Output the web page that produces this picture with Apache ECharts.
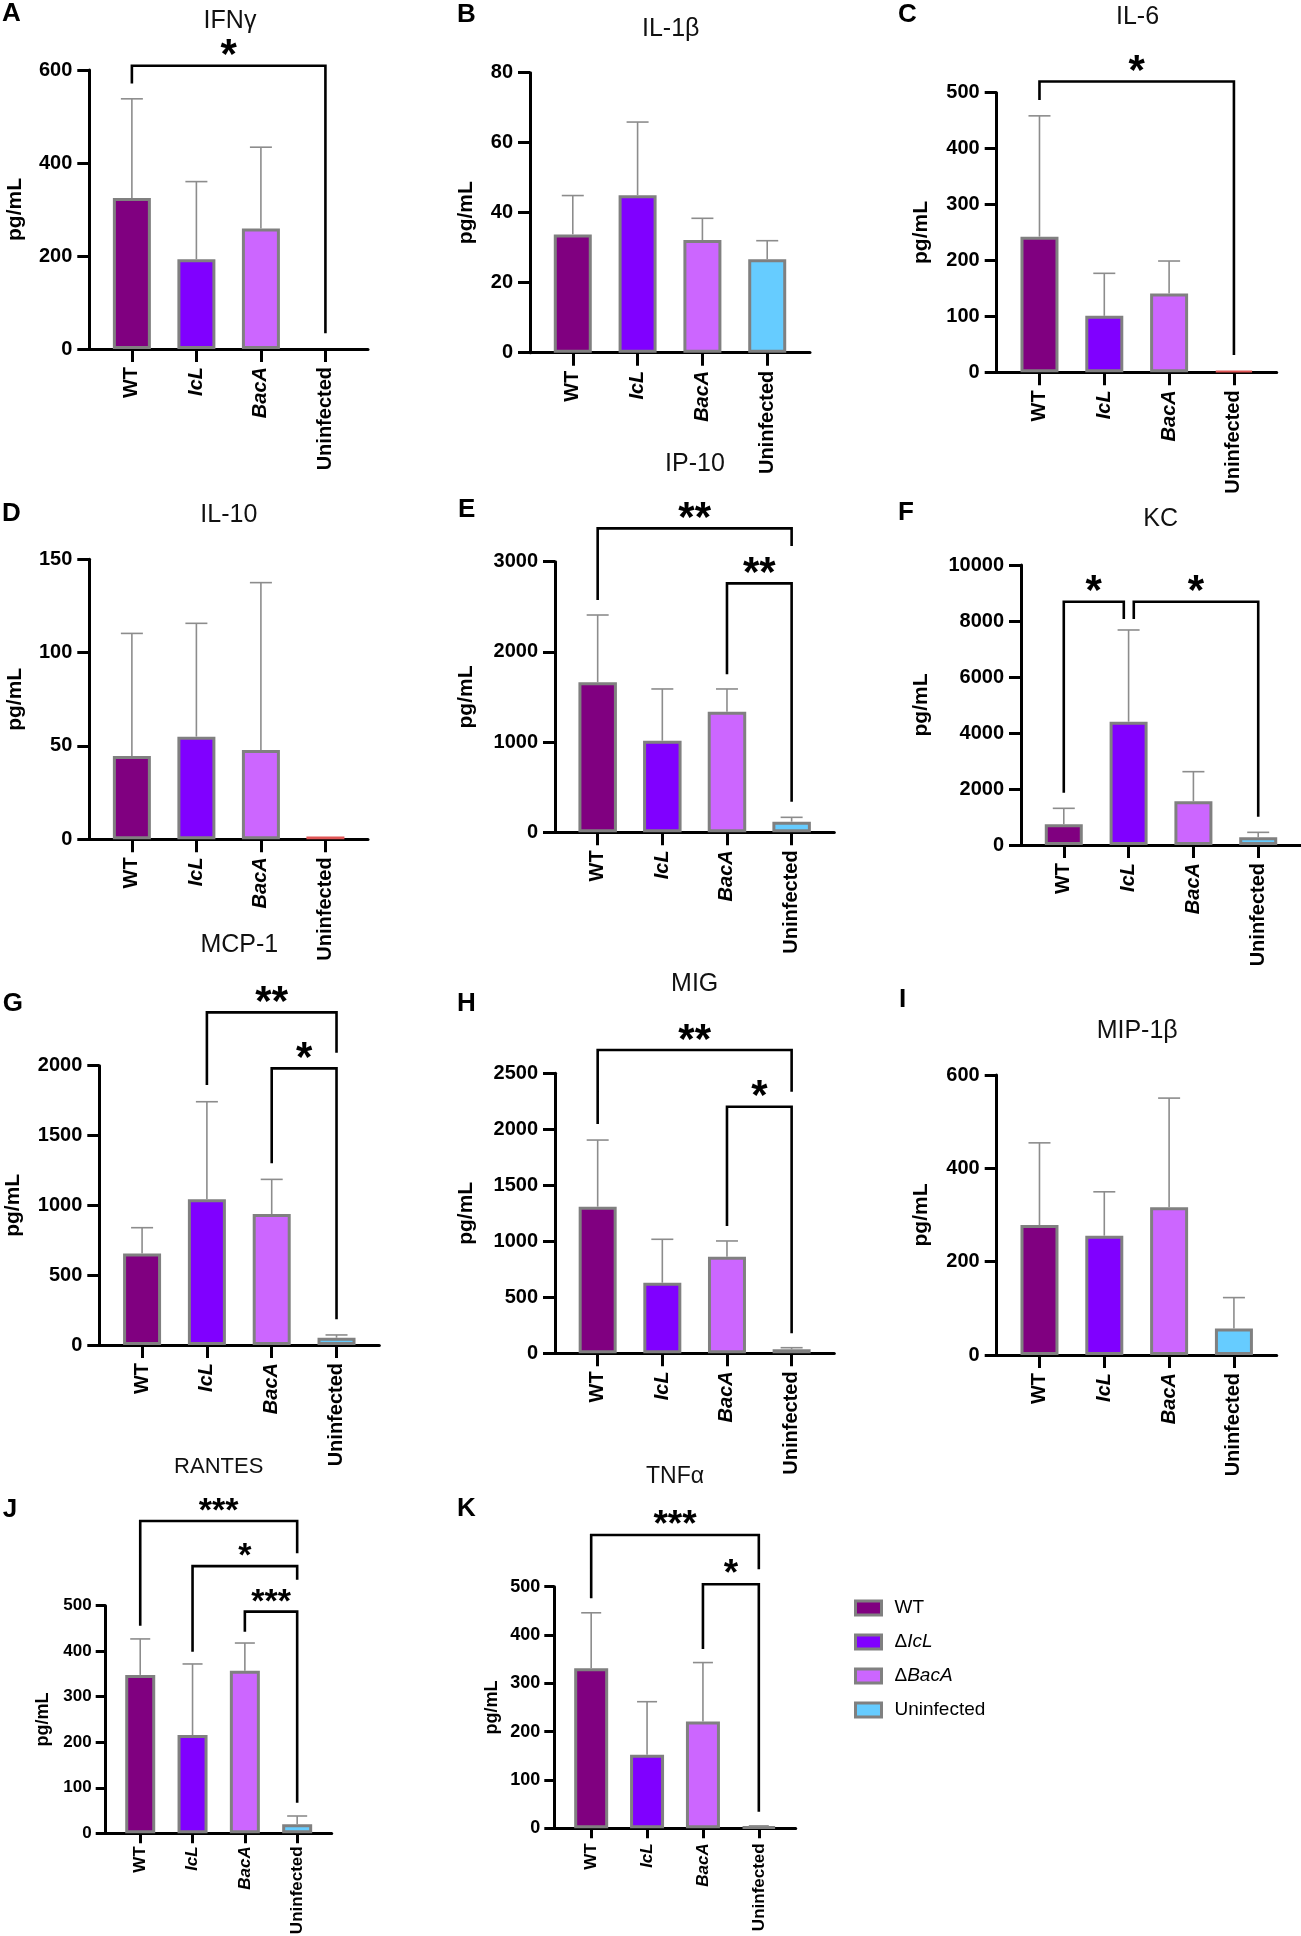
<!DOCTYPE html>
<html><head><meta charset="utf-8">
<script src="https://cdn.jsdelivr.net/npm/echarts@6/dist/echarts.min.js"></script>
<style>html,body{margin:0;padding:0;background:#fff}#c{width:1301px;height:1936px}</style>
</head><body><div id="c"></div>
<script>
// ---------- DATA ----------
const categories = ['WT', 'IcL', 'BacA', 'Uninfected'];
const italicCategories = ['IcL', 'BacA'];
const legendNames = ['WT', 'ΔIcL', 'ΔBacA', 'Uninfected'];
const panelLetters = ['A','B','C','D','E','F','G','H','I','J','K'];
const panelTitles = ['IFNγ','IL-1β','IL-6','IL-10','IP-10','KC','MCP-1','MIG','MIP-1β','RANTES','TNFα'];
const yMaxes = [600, 80, 500, 150, 3000, 10000, 2000, 2500, 600, 500, 500];
const yIntervals = [200, 20, 100, 50, 1000, 2000, 500, 500, 200, 100, 100];

const meanIFNg = [325, 193, 259, 0];      const sdIFNg = [213, 167, 175, 0];
const meanIL1b = [33.8, 45, 32.2, 26.7];  const sdIL1b = [11.1, 20.9, 6.2, 5.3];
const meanIL6  = [242.6, 101, 141, 3];    const sdIL6  = [216, 76, 58, 0];
const meanIL10 = [44.6, 55, 47.8, 1.5];   const sdIL10 = [65.7, 60.7, 89.7, 0];
const meanIP10 = [1663, 1016, 1337, 118]; const sdIP10 = [746, 573, 252, 48];
const meanKC   = [739, 4404, 1560, 274];  const sdKC   = [571, 3275, 1059, 178];
const meanMCP1 = [656, 1043, 938, 52];    const sdMCP1 = [184, 699, 248, 20];
const meanMIG  = [1309, 630, 862, 36];    const sdMIG  = [595, 388, 141, 14];
const meanMIP1b= [278.6, 255.7, 316.5, 57]; const sdMIP1b = [176, 94, 234, 66];
const meanRANTES=[348, 216, 357, 20];     const sdRANTES = [79, 156, 61, 18];
const meanTNFa = [331, 152, 221, 3];      const sdTNFa = [115, 110, 122, 2];

// brackets: [x1, x2, top, leftLegEnd, rightLegEnd, label]
const brIFNg = [[0, 3, 609, 571, 34, '*']];
const brIL1b = [];
const brIL6  = [[0, 3, 520, 487, 31, '*']];
const brIL10 = [];
const brIP10 = [[0, 3, 3370, 2575, 3174, '**'], [2, 3, 2760, 1751, 339, '**']];
const brKC   = [[0, 0.926, 8690, 1869, 8071, '*'], [1.08, 3, 8690, 8071, 1012, '*']];
const brMCP1 = [[1, 3, 2382, 1861, 2093, '**'], [2, 3, 1981, 1301, 184, '*']];
const brMIG  = [[0, 3, 2708, 2047, 2336, '**'], [2, 3, 2202, 1137, 179, '*']];
const brMIP1b= [];
const brRANTES=[[0, 3, 686, 456, 615, '***'], [1, 3, 587, 399, 557, '*'], [2, 3, 487, 443, 67, '***']];
const brTNFa = [[0, 3, 607, 476, 536, '***'], [2, 3, 505, 371, 34, '*']];

const means = [meanIFNg, meanIL1b, meanIL6, meanIL10, meanIP10, meanKC, meanMCP1, meanMIG, meanMIP1b, meanRANTES, meanTNFa];
const sds = [sdIFNg, sdIL1b, sdIL6, sdIL10, sdIP10, sdKC, sdMCP1, sdMIG, sdMIP1b, sdRANTES, sdTNFa];
const brackets = [brIFNg, brIL1b, brIL6, brIL10, brIP10, brKC, brMCP1, brMIG, brMIP1b, brRANTES, brTNFa];

// ---------- STYLE / LAYOUT ----------
const FONT = '"Liberation Sans", Arial, Helvetica, sans-serif';
const groupColors = ['#800080', '#8000FF', '#CC66FF', '#66CCFF'];
const borderGray = '#808080';
const redBorderPanels = [2, 3];
// gx: y-axis x, gt: top (max), gr: right end, gz: zero y
const L = [
 {gx:89.3, gt:70,    gr:368,   gz:349,    bw:38, nd:64,  tx:230,   ty:21,   ts:25, lx:2,   ly:14},
 {gx:530,  gt:72.7,  gr:810,   gz:352.7,  bw:38, nd:53,  tx:670.7, ty:29,   ts:25, lx:457, ly:15.3},
 {gx:996.7,gt:92.7,  gr:1276.7,gz:372.3,  bw:38, nd:64.5,tx:1137.5,ty:16.7, ts:25, lx:898, ly:15},
 {gx:89.3, gt:559.3, gr:368,   gz:839.3,  bw:38, nd:64,  tx:228.8, ty:515.3,ts:25, lx:2,   ly:513.7},
 {gx:555,  gt:561.7, gr:834.3, gz:832.3,  bw:38.5,nd:78, tx:695,   ty:464,  ts:25, lx:458, ly:509.7},
 {gx:1021, gt:565,   gr:1301,  gz:845,    bw:38, nd:89,  tx:1160.7,ty:519,  ts:25, lx:898, ly:513.3},
 {gx:99.3, gt:1065.7,gr:379.3, gz:1345,   bw:38, nd:75.5,tx:239.3, ty:945,  ts:25, lx:2.7, ly:1004},
 {gx:555,  gt:1073.3,gr:834.3, gz:1353.3, bw:38, nd:78,  tx:694.7, ty:984,  ts:25, lx:457, ly:1004},
 {gx:996.7,gt:1075,  gr:1276.7,gz:1355,   bw:38, nd:64.5,tx:1137.2,ty:1031, ts:25, lx:899, ly:1000},
 {gx:105.7,gt:1605.7,gr:331.7, gz:1833.3, bw:30, nd:53.4,tx:218.7, ty:1466.7,ts:22, lx:2.7, ly:1509.5},
 {gx:554.3,gt:1586.7,gr:795.7, gz:1828.3, bw:34, nd:53.6,tx:675,   ty:1476.7,ts:23, lx:457, ly:1508.7}
];
const small = [9, 10];

const grids = [], xAxes = [], yAxes = [], series = [], graphics = [];

function errRender(cap) {
  return function (params, api) {
    const x = api.value(0), m = api.value(1), s = api.value(2);
    if (!(s > 0)) return;
    const p0 = api.coord([x, m]), p1 = api.coord([x, m + s]);
    const st = {stroke: '#8c8c8c', lineWidth: 1.6};
    return {type: 'group', children: [
      {type: 'line', shape: {x1: p0[0], y1: p0[1], x2: p1[0], y2: p1[1]}, style: st},
      {type: 'line', shape: {x1: p1[0] - cap / 2, y1: p1[1], x2: p1[0] + cap / 2, y2: p1[1]}, style: st}
    ]};
  };
}
function brRender(list, starSize) {
  return function (params, api) {
    const b = list[params.dataIndex];
    const pl = api.coord([b[0], b[2]]), pr = api.coord([b[1], b[2]]);
    const ql = api.coord([b[0], b[3]]), qr = api.coord([b[1], b[4]]);
    return {type: 'group', children: [
      {type: 'polyline', shape: {points: [ql, pl, pr, qr]}, style: {stroke: '#000', lineWidth: 2.6, fill: 'none'}},
      {type: 'text', style: {text: b[5], x: (pl[0] + pr[0]) / 2, y: pl[1] - 9,
        align: 'center', verticalAlign: 'middle', textAlign: 'center', textVerticalAlign: 'middle',
        font: 'bold ' + starSize + 'px ' + FONT, fill: '#000'}}
    ]};
  };
}

for (let k = 0; k < 11; k++) {
  const g = L[k];
  const sm = small.includes(k);
  const tickFs = k === 9 ? 17 : (k === 10 ? 18 : 20);
  const xFs = sm ? 17 : 20;
  const nameFs = sm ? 18 : 21;
  const tickLen = sm ? 10 : 12;
  grids.push({left: g.gx, top: g.gt, width: g.gr - g.gx, height: g.gz - g.gt, outerBoundsMode: 'none', containLabel: false});
  xAxes.push({
    type: 'value', gridIndex: k, min: -0.66, max: 3.66,
    axisLine: {show: true, onZero: false, lineStyle: {color: '#000', width: 3}},
    axisTick: {show: true, customValues: [0, 1, 2, 3], length: sm ? 10 : 13, lineStyle: {color: '#000', width: 3}},
    splitLine: {show: false},
    axisLabel: {
      customValues: [0, 1, 2, 3], rotate: 90, margin: k === 9 ? 13 : (k === 10 ? 15 : 18),
      formatter: function (v) {
        const c = categories[Math.round(v)];
        return italicCategories.includes(c) ? '{i|' + c + '}' : '{n|' + c + '}';
      },
      rich: {
        i: {fontStyle: 'italic', fontWeight: 'bold', fontSize: xFs, fontFamily: FONT, color: '#000'},
        n: {fontWeight: 'bold', fontSize: xFs, fontFamily: FONT, color: '#000'}
      }
    }
  });
  yAxes.push({
    type: 'value', gridIndex: k, min: 0, max: yMaxes[k], interval: yIntervals[k],
    name: 'pg/mL', nameLocation: 'middle', nameGap: g.nd, nameRotate: 90,
    nameTextStyle: {fontWeight: 'bold', fontSize: nameFs, fontFamily: FONT, color: '#000'},
    axisLine: {show: true, onZero: false, lineStyle: {color: '#000', width: 3}},
    axisTick: {show: true, length: tickLen, lineStyle: {color: '#000', width: 3}},
    splitLine: {show: false},
    axisLabel: {margin: sm ? 14 : 17, fontWeight: 'bold', fontSize: tickFs, fontFamily: FONT, color: '#000',
      formatter: function (v) { return String(v); }}
  });
  for (let gi = 0; gi < 4; gi++) {
    const v = means[k][gi];
    const red = gi === 3 && redBorderPanels.includes(k);
    series.push({
      type: 'bar', name: legendNames[gi], xAxisIndex: k, yAxisIndex: k, stack: 'st' + k,
      barWidth: g.bw, z: 2,
      itemStyle: {color: red ? '#e05555' : groupColors[gi], borderColor: red ? '#e05555' : borderGray, borderWidth: red ? 2 : 3},
      data: v > 0 ? [[gi, v]] : []
    });
  }
  series.push({
    type: 'custom', xAxisIndex: k, yAxisIndex: k, z: 3,
    renderItem: errRender(sm ? 20 : 22),
    data: means[k].map((m, i) => [i, m, sds[k][i]])
  });
  if (brackets[k].length) {
    series.push({
      type: 'custom', xAxisIndex: k, yAxisIndex: k, z: 4, clip: false,
      renderItem: brRender(brackets[k], k === 9 ? 34 : (k === 10 ? 37 : 42)),
      data: brackets[k].map(b => [b[0], b[2]])
    });
  }
  graphics.push({type: 'text', x: g.tx, y: g.ty, style: {text: panelTitles[k], align: 'center', verticalAlign: 'middle',
    textAlign: 'center', textVerticalAlign: 'middle', font: g.ts + 'px ' + FONT, fill: '#111'}});
  graphics.push({type: 'text', x: g.lx, y: g.ly, style: {text: panelLetters[k], align: 'left', verticalAlign: 'middle',
    textAlign: 'left', textVerticalAlign: 'middle', font: 'bold 26px ' + FONT, fill: '#000'}});
}

const chart = echarts.init(document.getElementById('c'), null, {renderer: 'canvas'});
chart.setOption({
  animation: false,
  backgroundColor: '#fff',
  grid: grids, xAxis: xAxes, yAxis: yAxes, series: series,
  graphic: graphics,
  legend: {
    data: legendNames, orient: 'vertical', left: 849, top: 1593,
    itemWidth: 26, itemHeight: 14, itemGap: 14, icon: 'rect',
    itemStyle: {borderColor: borderGray, borderWidth: 3},
    selectedMode: false,
    formatter: function (n) {
      if (n.charAt(0) === 'Δ') return 'Δ{i|' + n.slice(1) + '}';
      return n;
    },
    textStyle: {fontSize: 19, lineHeight: 20, fontFamily: FONT, color: '#000', padding: [0, 0, 0, 8],
      rich: {i: {fontStyle: 'italic', fontSize: 19, fontFamily: FONT, color: '#000'}}}
  }
});
</script></body></html>
